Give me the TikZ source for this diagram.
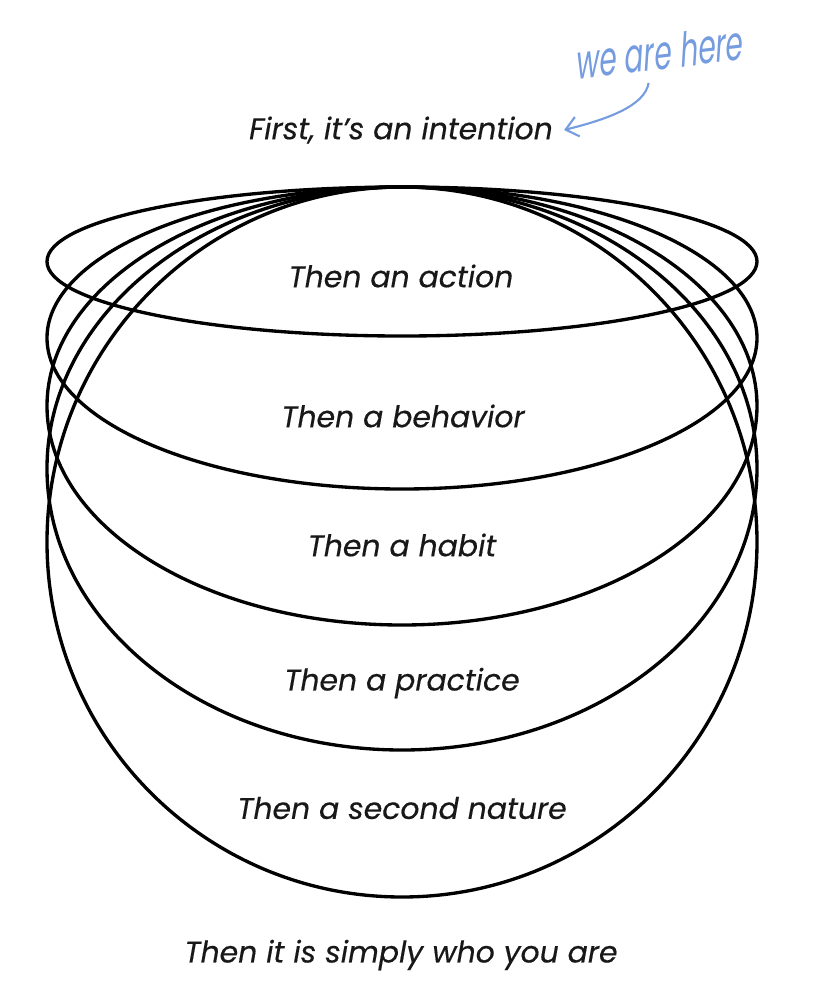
\documentclass[tikz,border=0pt]{standalone}
\usepackage{fontspec}
\setmainfont{Poppins}
\newfontfamily\stagefont{Poppins}[FakeBold=0.35]
\usepackage{tikz}
\usetikzlibrary{arrows.meta}
\usetikzlibrary{positioning}
\definecolor{ink}{RGB}{24,24,24}
\definecolor{pen}{RGB}{118,156,224}
\tikzset{stage/.style={text=ink,font=\stagefont\fontsize{17}{20}\selectfont\itshape}}
\tikzset{ring/.style={draw=black,line width=1.9pt}}
\tikzset{note/.style={text=pen,font=\fontsize{16}{18}\selectfont\itshape,yscale=1.7,rotate=4}}
\tikzset{arrow/.style={-{Straight Barb[length=2.4mm,width=4mm]},draw=pen,line width=1.2pt}}

\begin{document}
\begin{tikzpicture}[x=0.02cm,y=-0.02cm]
        \useasboundingbox (0,0) rectangle (823,1002);

        % nested ellipses, all touching at the top
        \foreach \r in {74.5,151,219,281.5,355}
            \draw[ring] (402,187+\r) ellipse (355 and \r);

        \node[stage] (int) at (401,130) {First, it’s an intention};
        \node[stage] (act) at (401,276) {Then an action};
        \node[stage] (beh) at (403,416) {Then a behavior};
        \node[stage] (hab) at (402,545) {Then a habit};
        \node[stage] (pra) at (402,683) {Then a practice};
        \node[stage] (sec) at (402,808) {Then a second nature};
        \node[stage] (who) at (401,955) {Then it is simply who you are};

        \node[note] (here) at (660,52) {we are here};

        \draw[arrow] ([xshift=-0.25cm,yshift=-0.05cm]here.south)
            .. controls +(-4,24) and +(40,-10) .. ([xshift=1mm]int.east);
    \end{tikzpicture}
\end{document}
